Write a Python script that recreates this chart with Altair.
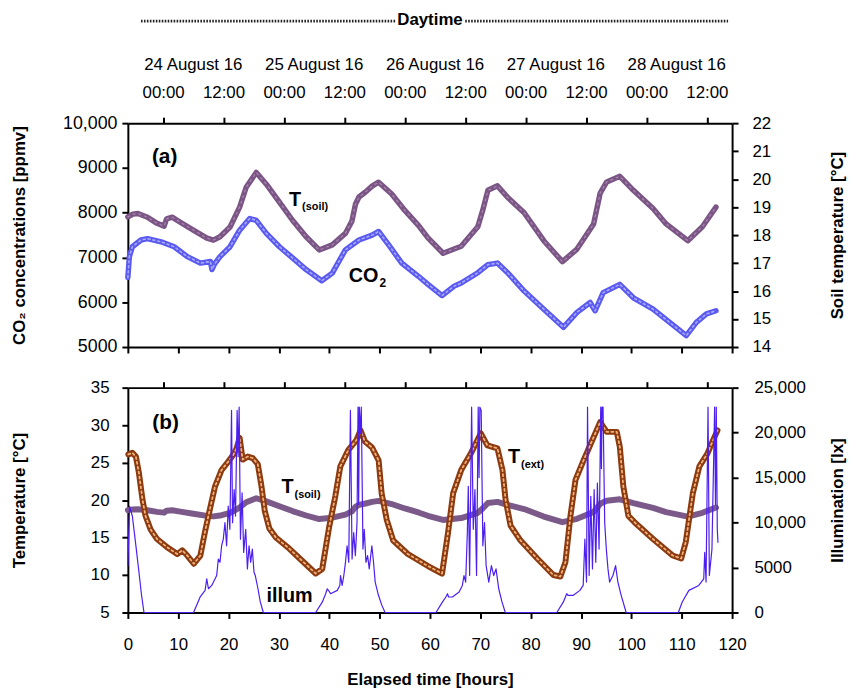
import altair as alt
import pandas as pd

# ---------------- data ----------------
# Soil temperature [deg C] (same series in both panels)
TSOIL_T = [0, 1, 2, 3.9, 5.8, 7.2, 7.7, 8.8, 10.4, 13.0, 15.7, 17.0, 18.3, 20.3, 22.2,
           23.5, 25.5, 27.5, 30.1, 32.7, 35.4, 38.0, 40.6, 43.2, 44.5, 45.2, 45.9, 47.2,
           48.5, 49.8, 52.4, 55.0, 57.7, 59.6, 62.6, 66.2, 69.5, 70.5, 71.5, 73.4, 75.4,
           78.7, 82.6, 86.3, 89.2, 92.5, 93.8, 95.1, 97.7, 100.4, 104.3, 106.9, 111.2,
           114.1, 116.8]
TSOIL_C = [18.65, 18.75, 18.77, 18.64, 18.42, 18.32, 18.58, 18.64, 18.46, 18.18, 17.89,
           17.82, 17.94, 18.29, 19.0, 19.71, 20.24, 19.82, 19.18, 18.53, 17.94, 17.47,
           17.65, 18.06, 18.5, 19.1, 19.36, 19.54, 19.75, 19.89, 19.47, 18.88, 18.35,
           17.9, 17.35, 17.6, 18.3, 18.9, 19.6, 19.76, 19.35, 18.8, 17.8, 17.05, 17.5,
           18.4, 19.5, 19.9, 20.1, 19.6, 18.95, 18.4, 17.8, 18.3, 19.0]

# CO2 concentration [ppmv]
CO2_T = [0, 0.3, 0.9, 2.6, 3.9, 6.6, 9.2, 11.8, 14.4, 16.4, 16.7, 17.2, 18.3, 20.3, 22.2,
         24.2, 25.5, 27.5, 30.1, 32.7, 35.4, 38.5, 40.6, 43.2, 45.9, 48.5, 49.8, 51.8,
         54.4, 57.7, 59.6, 62.4, 64.8, 66.2, 69.5, 71.5, 73.4, 75.4, 78.7, 82.6, 86.5,
         89.2, 91.8, 92.8, 94.4, 97.7, 100.4, 104.3, 107.6, 110.9, 112.9, 114.9, 116.8]
CO2_PPM = [6550, 7020, 7240, 7390, 7420, 7350, 7240, 7020, 6875, 6910, 6730, 6850, 7020,
           7240, 7610, 7870, 7830, 7540, 7240, 6990, 6730, 6480, 6650, 7170, 7390, 7500,
           7580, 7280, 6875, 6580, 6400, 6150, 6360, 6430, 6660, 6840, 6875, 6660, 6250,
           5845, 5440, 5775, 5995, 5810, 6215, 6400, 6100, 5845, 5550, 5255, 5550, 5740,
           5810]

# External temperature [deg C]
TEXT_T = [0.1, 0.9, 1.6, 2.2, 2.9, 3.5, 4.5, 5.8, 7.8, 9.8, 10.8, 11.8, 13.1, 14.4, 15.3,
          16.0, 17.3, 18.6, 19.9, 20.9, 21.6, 22.2, 22.8, 23.8, 24.8, 25.8, 26.5, 27.2,
          28.1, 29.4, 32.1, 34.6, 37.3, 38.6, 40.0, 41.2, 42.2, 43.8, 45.4, 46.2, 47.1,
          48.5, 49.8, 50.4, 51.4, 52.7, 55.6, 59.6, 62.4, 63.6, 64.6, 66.2, 68.1, 70.1,
          71.4, 73.4, 74.4, 75.0, 76.0, 78.0, 81.3, 84.5, 85.9, 86.9, 87.9, 88.9, 90.5,
          92.5, 93.8, 95.1, 97.1, 97.7, 98.4, 99.4, 101.0, 104.3, 108.2, 109.9, 110.8,
          112.2, 113.5, 115.1, 116.1, 117.1]
TEXT_C = [26.1, 26.3, 25.8, 23.6, 20.1, 17.9, 16.1, 14.8, 13.7, 12.8, 13.3, 12.6, 11.5,
          12.6, 15.7, 17.9, 21.8, 24.0, 25.1, 26.0, 26.9, 28.3, 25.4, 25.8, 25.6, 24.8,
          22.0, 18.5, 16.2, 15.0, 13.5, 11.9, 10.2, 10.8, 16.5, 20.5, 24.5, 26.7, 28.0,
          29.3, 27.8, 27.0, 25.3, 20.9, 17.4, 14.6, 12.8, 11.2, 10.2, 15.7, 20.9, 24.0,
          26.2, 28.9, 27.3, 26.9, 24.0, 20.1, 16.6, 14.6, 12.2, 10.0, 9.8, 11.7, 17.9,
          22.7, 25.3, 28.4, 30.4, 29.1, 29.1, 27.1, 21.8, 17.9, 16.8, 14.8, 12.6, 12.2,
          14.4, 20.9, 24.5, 26.2, 27.8, 29.3]

# Illumination [lx]
ILLUM_T = [0.0, 0.35, 0.9, 1.6, 2.2, 2.7, 3.2,
           13.05, 14.36, 15.34, 15.67, 16.0, 16.66, 17.64, 17.97, 18.3, 18.62, 18.95,
           19.28, 19.61, 19.93, 20.26, 20.59, 20.79, 21.11, 21.38, 21.7, 21.9, 22.1,
           22.36, 22.69, 23.0, 23.41, 23.74, 24.07, 24.39, 24.72, 25.05, 25.31, 25.84,
           26.3, 26.9,
           37.3, 38.63, 39.28, 39.61, 40.27, 41.58, 42.1, 42.23, 42.56, 42.89, 43.22,
           43.54, 43.87, 44.2, 44.53, 44.86, 45.18, 45.51, 45.71, 45.84, 45.97, 46.17,
           46.36, 46.69, 46.95, 47.28, 47.61, 47.94, 48.46, 48.79, 49.12, 49.77, 50.43,
           51.08,
           61.19, 62.5, 63.15, 63.48, 63.7, 64.46, 65.78, 66.43, 66.76, 67.09, 67.42,
           67.61, 67.88, 68.27, 68.6, 68.93, 69.25, 69.58, 69.75, 69.91, 70.17, 70.5,
           70.83, 71.15, 71.68, 72.2, 72.66, 73.12, 73.65, 74.3, 74.96,
           85.19, 86.5, 87.15, 87.4, 88.47, 89.78, 90.43, 90.76, 91.09, 91.29, 91.61,
           91.94, 92.27, 92.6, 92.93, 93.25, 93.58, 93.91, 94.05, 94.17, 94.37, 94.7,
           95.02, 95.35, 95.68, 96.33, 96.86, 97.32, 97.97, 98.96,
           109.32, 110.1, 111.42, 113.38, 114.37, 114.56, 114.83, 115.22, 115.48, 116.0,
           116.53, 116.7, 116.86, 117.06, 117.19]
ILLUM_LX = [5200, 11800, 10700, 7400, 4500, 2000, 0,
            0, 1725, 2460, 3745, 2640, 3010, 4110, 5950, 5580, 7415, 8150, 9985, 7415,
            11820, 9250, 22470, 9985, 13655, 10720, 22470, 17330, 22830, 8150, 13290,
            6680, 9250, 4845, 7415, 5580, 7050, 4480, 4110, 2640, 1175, 0,
            0, 1175, 2090, 2640, 2090, 2460, 3010, 4110, 3010, 4110, 5580, 7415, 5580,
            22470, 5950, 8885, 6315, 9985, 22830, 12000, 22830, 19900, 22830, 7050, 9250,
            5580, 6315, 4845, 7415, 5580, 3380, 1910, 820, 0,
            0, 1175, 1725, 2090, 1725, 1725, 2275, 3010, 4110, 3380, 8885, 14025, 4110,
            22830, 9250, 13655, 4110, 22830, 15000, 22830, 22470, 7415, 9985, 5210, 3380,
            5210, 4110, 4845, 2640, 1175, 0,
            0, 1175, 2090, 1900, 1910, 2460, 3010, 8150, 3380, 22830, 4110, 12920, 4845,
            13655, 5580, 14390, 7050, 22830, 16000, 22830, 22830, 9985, 7050, 4845, 3380,
            4110, 5210, 3380, 1910, 0,
            0, 1175, 2460, 3010, 3745, 6680, 3380, 22830, 4110, 7050, 22830, 12000, 22830,
            9250, 7800]

# axes / labels
HOUR_TICKS = list(range(0, 121, 10))
CLOCK_TICKS = [7, 19, 31, 43, 55, 67, 79, 91, 103, 115]
DATE_LABELS = ["24 August 16", "25 August 16", "26 August 16", "27 August 16", "28 August 16"]
DATE_POS = [13, 37, 61, 85, 109]
DAYTIME_POS = [60]
DOTS_START = [2.6, 67.0]
DOTS_END = [53.2, 119.2]
CO2_TICKS = [5000, 6000, 7000, 8000, 9000, 10000]
TSOIL_TICKS = [14, 15, 16, 17, 18, 19, 20, 21, 22]
TEMP_TICKS = [5, 10, 15, 20, 25, 30, 35]
ILLUM_TICKS = [0, 5000, 10000, 15000, 20000, 25000]

# annotations (data coordinates)
ANN_A_BIG_TXT = ["(a)", "T", "CO"]
ANN_A_BIG_T = [7.3, 33.2, 46.8]
ANN_A_BIG_V = [9248, 8274, 6593]
ANN_A_BIG_FS = [21, 20, 20]
ANN_A_SM_TXT = ["(soil)", "2"]
ANN_A_SM_T = [34.6, 50.0]
ANN_A_SM_V = [8119, 6440]
ANN_A_SM_FS = [11, 12]
ANN_B_BIG_TXT = ["(b)", "T", "T", "illum"]
ANN_B_BIG_T = [7.5, 31.7, 76.7, 32.1]
ANN_B_BIG_V = [30.24, 21.78, 25.75, 7.25]
ANN_B_BIG_FS = [21, 20, 20, 20]
ANN_B_SM_TXT = ["(soil)", "(ext)"]
ANN_B_SM_T = [33.1, 78.1]
ANN_B_SM_V = [20.73, 24.69]
ANN_B_SM_FS = [11, 11]

# ---------------- chart ----------------
FONT = "Liberation Sans"
W, HA, HB = 610, 226, 227
XS = alt.Scale(domain=[0, 120], nice=False, zero=False)

tsoil = pd.DataFrame({"t": TSOIL_T, "v": TSOIL_C})
co2 = pd.DataFrame({"t": CO2_T, "v": CO2_PPM})
text_df = pd.DataFrame({"t": TEXT_T, "v": TEXT_C})
illum = pd.DataFrame({"t": ILLUM_T, "v": ILLUM_LX})

DOM_CO2 = [5000, 10000]
DOM_TSOIL = [14, 22]
DOM_TEMP = [5, 35]
DOM_ILL = [0, 25000]


def ys(domain):
    return alt.Scale(domain=domain, nice=False, zero=False)


def line(df, domain, color, width, xaxis=None, yaxis=None, dash=None, opacity=1.0):
    kw = dict(color=color, strokeWidth=width, strokeJoin="round", strokeCap="round",
              opacity=opacity)
    if dash is not None:
        kw["strokeDash"] = dash
    return alt.Chart(df).mark_line(**kw).encode(
        x=alt.X("t:Q", scale=XS, axis=xaxis),
        y=alt.Y("v:Q", scale=ys(domain), axis=yaxis),
    )


def texts(txt, ts, vs, fs, domain, align):
    df = pd.DataFrame({"txt": txt, "t": ts, "v": vs, "fs": fs})
    return alt.Chart(df).mark_text(font=FONT, fontWeight="bold", align=align,
                                   baseline="middle", color="black").encode(
        x=alt.X("t:Q", scale=XS, axis=None),
        y=alt.Y("v:Q", scale=ys(domain), axis=None),
        text="txt:N",
        size=alt.Size("fs:Q", scale=None, legend=None),
    )


big_fmt = "datum.value >= 10000 ? format(datum.value, ',') : format(datum.value, 'd')"

# ---- panel (a) ----
ax_a_bottom = alt.Axis(orient="bottom", values=HOUR_TICKS, labels=False, title=None)
ax_a_top = alt.Axis(orient="top", values=CLOCK_TICKS, labelPadding=16, title=None,
                    labelExpr="(datum.value - 7) % 24 == 0 ? '00:00' : '12:00'")
ax_a_left = alt.Axis(orient="left", values=CO2_TICKS, labelExpr=big_fmt, labelPadding=5,
                     labelFontSize=18, title="CO₂ concentrations [ppmv]", titleX=-109,
                     titleY=HA / 2, titleAngle=270, titleAlign="center",
                     titleBaseline="middle")
ax_a_right = alt.Axis(orient="right", values=TSOIL_TICKS, labelPadding=14,
                      title="Soil temperature [°C]", titleX=106, titleY=HA / 2,
                      titleAngle=270, titleAlign="center", titleBaseline="middle")

co2_outer = line(co2, DOM_CO2, "#5a5af0", 5.5, xaxis=ax_a_bottom, yaxis=ax_a_left)
co2_inner = line(co2, DOM_CO2, "#a9a9fa", 1.6, dash=[2, 3])
ts_outer = line(tsoil, DOM_TSOIL, "#7b5585", 5.5, xaxis=ax_a_top, yaxis=ax_a_right)
ts_inner = line(tsoil, DOM_TSOIL, "#a98aae", 1.2, dash=[2, 4])

dates = alt.Chart(pd.DataFrame({"d": DATE_LABELS, "t": DATE_POS})).mark_text(
    font=FONT, fontSize=17, baseline="middle", color="black").encode(
    x=alt.X("t:Q", scale=XS, axis=None), y=alt.value(-59), text="d:N")
daytime = alt.Chart(pd.DataFrame({"d": ["Daytime"], "t": DAYTIME_POS})).mark_text(
    font=FONT, fontSize=17, fontWeight="bold", baseline="middle", color="black").encode(
    x=alt.X("t:Q", scale=XS, axis=None), y=alt.value(-104), text="d:N")
dots = alt.Chart(pd.DataFrame({"a": DOTS_START, "b": DOTS_END})).mark_rule(
    strokeDash=[1.6, 1.4], strokeWidth=2.6, color="#222222").encode(
    x=alt.X("a:Q", scale=XS, axis=None), x2="b:Q", y=alt.value(-103))

panel_a = alt.layer(
    co2_outer, co2_inner, ts_outer, ts_inner,
    texts(ANN_A_BIG_TXT, ANN_A_BIG_T, ANN_A_BIG_V, ANN_A_BIG_FS, DOM_CO2, "center"),
    texts(ANN_A_SM_TXT, ANN_A_SM_T, ANN_A_SM_V, ANN_A_SM_FS, DOM_CO2, "left"),
    dates, daytime, dots,
).resolve_scale(y="independent").resolve_axis(x="independent", y="independent").properties(
    width=W, height=HA)

# ---- panel (b) ----
ax_b_bottom = alt.Axis(orient="bottom", values=HOUR_TICKS, labelPadding=18,
                       title="Elapsed time [hours]", titleX=W / 2, titleY=68,
                       titleAlign="center", titleBaseline="middle")
ax_b_top = alt.Axis(orient="top", values=CLOCK_TICKS, labels=False, title=None)
ax_b_left = alt.Axis(orient="left", values=TEMP_TICKS, labelPadding=13,
                     title="Temperature [°C]", titleX=-109, titleY=HB / 2, titleAngle=270,
                     titleAlign="center", titleBaseline="middle")
ax_b_right = alt.Axis(orient="right", values=ILLUM_TICKS, labelExpr=big_fmt,
                      labelPadding=16, title="Illumination [lx]", titleX=106,
                      titleY=HB / 2, titleAngle=270, titleAlign="center",
                      titleBaseline="middle")

tsb_outer = line(tsoil, DOM_TEMP, "#7b5a8a", 6)
text_outer = line(text_df, DOM_TEMP, "#8c3a10", 6, xaxis=ax_b_bottom, yaxis=ax_b_left)
text_inner = line(text_df, DOM_TEMP, "#f0b27a", 1.8, dash=[2, 3])
illum_line = line(illum, DOM_ILL, "#4b1ef2", 1.2, xaxis=ax_b_top, yaxis=ax_b_right)

panel_b = alt.layer(
    tsb_outer, text_outer, text_inner, illum_line,
    texts(ANN_B_BIG_TXT, ANN_B_BIG_T, ANN_B_BIG_V, ANN_B_BIG_FS, DOM_TEMP, "center"),
    texts(ANN_B_SM_TXT, ANN_B_SM_T, ANN_B_SM_V, ANN_B_SM_FS, DOM_TEMP, "left"),
).resolve_scale(y="independent").resolve_axis(x="independent", y="independent").properties(
    width=W, height=HB)

chart = alt.vconcat(panel_a, panel_b, spacing=23, background="white",
                    padding={"left": 3, "top": 0, "right": 2, "bottom": 0}).configure_view(
    stroke=None
).configure_axis(
    domainColor="black", domainWidth=2, tickColor="black", tickWidth=2, tickSize=6,
    grid=False, labelFont=FONT, labelFontSize=17, labelColor="black", labelFlush=False,
    labelOverlap=False, titleFont=FONT, titleFontSize=17, titleFontWeight="bold",
    titleColor="black"
)

chart.save("out.html", embed_options={"renderer": "svg", "actions": False})
